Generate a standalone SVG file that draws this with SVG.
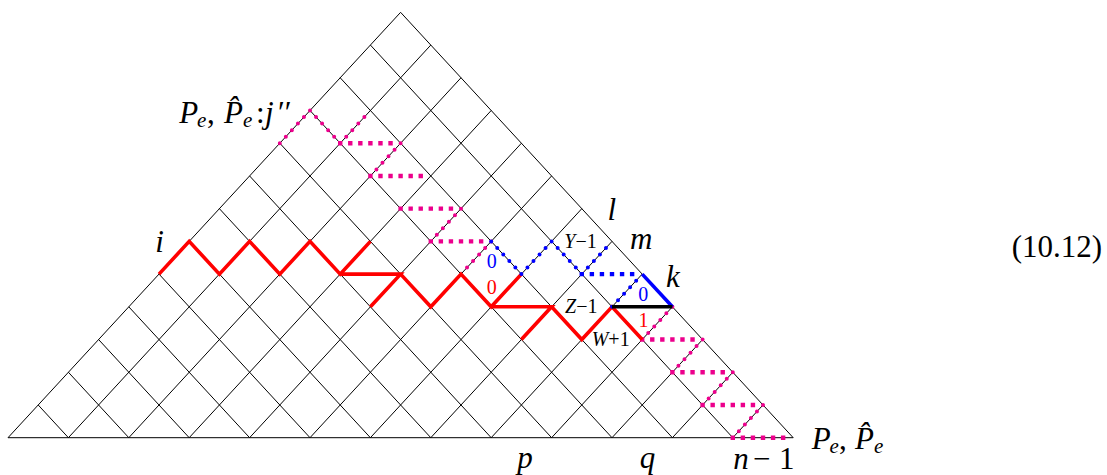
<svg xmlns="http://www.w3.org/2000/svg" width="1107" height="475" viewBox="0 0 1107 475">
<style>
.grid{stroke:#000;stroke-width:1;fill:none}
.red{stroke:#ff0000;stroke-width:3.6;fill:none;stroke-linejoin:miter}
.blk{stroke:#000;stroke-width:3.6;fill:none}
.blue{stroke:#0000ff;stroke-width:3.6;fill:none}
.dd{stroke-width:4;fill:none;stroke-linecap:round;stroke-dasharray:0 8.906}
.dh{stroke-width:4.4;fill:none;stroke-linecap:square;stroke-dasharray:0 10.067}
.mag{stroke:#ec008c}
.bl{stroke:#0000ff}
.m{font-style:italic;font-size:31px;fill:#000}
.r{font-style:normal}
.s{font-size:21px}
.sm{font-size:20px;fill:#000}
.it{font-style:italic}
.eq{font-size:31px;fill:#000}
</style>
<g id="grid" class="grid">
<path d="M8,437.7H793.2"/>
<path d="M8,437.7L400.6,12.34M68.4,437.7L430.8,45.06M128.8,437.7L461,77.78M189.2,437.7L491.2,110.5M249.6,437.7L521.4,143.22M310,437.7L551.6,175.94M370.4,437.7L581.8,208.66M430.8,437.7L612,241.38M491.2,437.7L642.2,274.1M551.6,437.7L672.4,306.82M612,437.7L702.6,339.54M672.4,437.7L732.8,372.26M732.8,437.7L763,404.98"/>
<path d="M38.2,404.98L68.4,437.7M68.4,372.26L128.8,437.7M98.6,339.54L189.2,437.7M128.8,306.82L249.6,437.7M159,274.1L310,437.7M189.2,241.38L370.4,437.7M219.4,208.66L430.8,437.7M249.6,175.94L491.2,437.7M279.8,143.22L551.6,437.7M310,110.5L612,437.7M340.2,77.78L672.4,437.7M370.4,45.06L732.8,437.7M400.6,12.34L793.2,437.7"/>
</g>
<g id="connectors">
<g id="magenta-paths">
<path class="dd mag" d="M279.8,143.22L310,110.5L340.2,143.22L370.4,110.5"/>
<path class="dd mag" d="M400.6,143.22L370.4,175.94"/>
<path class="dd mag" d="M461,208.66L430.8,241.38"/>
<path class="dd mag" d="M491.2,241.38L461,274.1"/>
<path class="dd mag" d="M672.4,306.82L642.2,339.54"/>
<path class="dd mag" d="M702.6,339.54L672.4,372.26"/>
<path class="dd mag" d="M732.8,372.26L702.6,404.98"/>
<path class="dd mag" d="M763,404.98L732.8,437.7"/>
<path class="dh mag" d="M340.2,143.22H400.6M370.4,175.94H430.8M400.6,208.66H461M430.8,241.38H491.2M642.2,339.54H702.6M672.4,372.26H732.8M702.6,404.98H763M732.8,437.7H793.2"/>
</g>
<g id="red-path">
<path class="red" d="M159,274.1L189.2,241.38L219.4,274.1L249.6,241.38L279.8,274.1L310,241.38L340.2,274.1L370.4,241.38M340.2,274.1H400.6L370.4,306.82M400.6,274.1L430.8,306.82L461,274.1L491.2,306.82L521.4,274.1M491.2,306.82H551.6L521.4,339.54M551.6,306.82L581.8,339.54L612,306.82L642.2,339.54"/>
</g>
<g id="blue-path">
<path class="dd bl" d="M491.2,241.38L521.4,274.1L551.6,241.38L581.8,274.1L612,241.38"/>
<path class="dd bl" d="M612,306.82L642.2,274.1"/>
<path class="dh bl" d="M581.8,274.1H642.2"/>
<path class="blue" d="M642.2,274.1L672.4,306.82"/>
</g>
<path id="black-edge" class="blk" d="M612,306.82H672.4"/>
</g>
<g id="labels" font-family="Liberation Serif, serif">
<text class="m" y="123.3"><tspan x="179.3">P</tspan><tspan class="s" x="197" y="126.5">e</tspan><tspan class="r" x="207" y="123.3">,</tspan><tspan x="224">P̂</tspan><tspan class="s" x="243" y="126.5">e</tspan><tspan class="r" x="256" y="123.3">:</tspan><tspan x="265">j</tspan><tspan class="r" x="278">′′</tspan></text>
<text class="m" x="159.5" y="251.7" text-anchor="middle">i</text>
<text class="m" x="607.5" y="220">l</text>
<text class="m" x="630" y="249">m</text>
<text class="m" x="666" y="286.7">k</text>
<text class="sm" x="564.3" y="248.3"><tspan class="it">Y</tspan>−1</text>
<text class="sm" x="565" y="312.7"><tspan class="it">Z</tspan>−1</text>
<text class="sm" x="591.7" y="345.7"><tspan class="it">W</tspan>+1</text>
<text class="sm" x="491.7" y="268.3" text-anchor="middle" style="fill:#0000ff">0</text>
<text class="sm" x="491.7" y="294.3" text-anchor="middle" style="fill:#ff0000">0</text>
<text class="sm" x="643.3" y="300.7" text-anchor="middle" style="fill:#0000ff">0</text>
<text class="sm" x="643.5" y="326.7" text-anchor="middle" style="fill:#ff0000">1</text>
<text class="m" x="525" y="468" text-anchor="middle">p</text>
<text class="m" x="647.5" y="468" text-anchor="middle">q</text>
<text class="m" y="469"><tspan x="733.3">n</tspan><tspan class="r" x="753">−</tspan><tspan class="r" x="779">1</tspan></text>
<text class="m" y="449.3"><tspan x="811.7">P</tspan><tspan class="s" x="829.5" y="452.5">e</tspan><tspan class="r" x="839" y="449.3">,</tspan><tspan x="855">P̂</tspan><tspan class="s" x="874" y="452.5">e</tspan></text>
<text class="eq" x="1011.7" y="257.3">(10.12)</text>
</g>
</svg>
